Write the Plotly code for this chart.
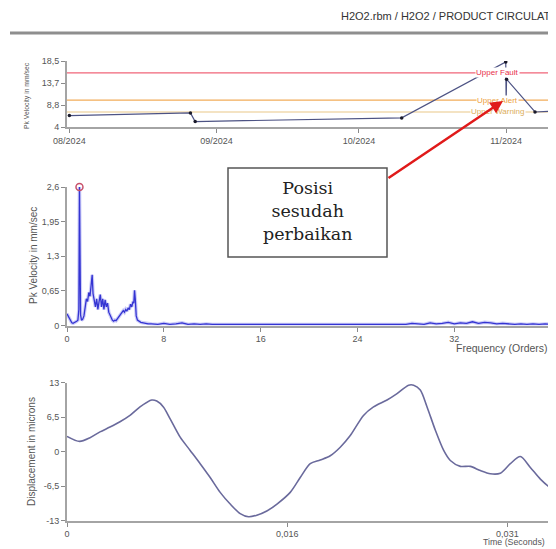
import numpy as np
import plotly.graph_objects as go

# The page body has an 8px margin, so the figure is drawn 8px smaller and
# every reference pixel position is shifted by -8px.
OFF = 8
W, H = 556 - OFF, 549 - OFF

title_text = "H2O2.rbm / H2O2 / PRODUCT CIRCULATION PUMP"

# ---- Trend data (Pk Velocity in mm/sec) ----
trend_dates = ["2024-08-01", "2024-08-26 12:00", "2024-08-27 12:00",
               "2024-10-10", "2024-10-31 22:00", "2024-11-01 00:00", "2024-11-01 02:00",
               "2024-11-07 02:00", "2024-11-11 12:00"]
trend_vals = [6.5, 7.1, 5.2, 6.0, 18.3, 9.9, 14.5, 7.3, 7.5]
alarm_names = ["Upper Fault", "Upper Alert", "Upper Warning"]
alarm_levels = [15.9, 9.9, 7.3]
alarm_colors = ["#f06478", "#f2ac5a", "#e9c887"]
alarm_text_colors = ["#e8304a", "#eda040", "#dcae5a"]
trend_yticks = [4, 8.833, 13.667, 18.5]
trend_yticktext = ["4", "8,8", "13,7", "18,5"]

# ---- Spectrum data (orders, mm/sec) ----
spec_freq_low = [0.00, 0.10, 0.20, 0.30, 0.40, 0.50, 0.60, 0.70, 0.80, 0.90, 0.98, 1.03, 1.07, 1.12,
                 1.20, 1.30, 1.40, 1.50, 1.60, 1.70, 1.80, 1.90, 2.00, 2.08, 2.15, 2.25, 2.35, 2.45,
                 2.55, 2.65, 2.75, 2.85, 2.95, 3.05, 3.15, 3.25, 3.35, 3.45, 3.55, 3.65, 3.75, 3.85,
                 3.95, 4.05, 4.15, 4.25, 4.35, 4.45, 4.55, 4.65, 4.75, 4.85, 4.95, 5.05, 5.15, 5.25,
                 5.35, 5.45, 5.52, 5.58, 5.64, 5.72, 5.82, 5.95, 6.10, 6.30, 6.50, 6.70]
spec_amp_low = [0.22, 0.18, 0.12, 0.08, 0.05, 0.04, 0.05, 0.06, 0.08, 0.10, 0.30, 2.60, 1.50, 0.20,
                0.10, 0.12, 0.18, 0.35, 0.50, 0.45, 0.62, 0.55, 0.80, 0.95, 0.60, 0.42, 0.35, 0.50,
                0.30, 0.45, 0.58, 0.35, 0.50, 0.30, 0.48, 0.35, 0.42, 0.25, 0.20, 0.12, 0.10, 0.08,
                0.10, 0.09, 0.12, 0.15, 0.18, 0.20, 0.24, 0.28, 0.25, 0.30, 0.27, 0.33, 0.30, 0.40,
                0.35, 0.45, 0.42, 0.66, 0.50, 0.18, 0.10, 0.08, 0.06, 0.05, 0.04, 0.03]
spec_freq_high = [round(v, 2) for v in np.arange(7.0, 40.6, 0.5)]
spec_amp_high = [0.03, 0.02, 0.04, 0.02, 0.03, 0.05, 0.02, 0.03, 0.02, 0.03, 0.02, 0.02,
                 0.03, 0.02, 0.02, 0.03, 0.02, 0.02, 0.02, 0.03, 0.02, 0.02, 0.03, 0.02,
                 0.02, 0.03, 0.02, 0.02, 0.03, 0.02, 0.02, 0.02, 0.03, 0.02, 0.03, 0.02,
                 0.02, 0.03, 0.02, 0.03, 0.02, 0.03, 0.02, 0.04, 0.03, 0.02, 0.05, 0.03,
                 0.04, 0.06, 0.03, 0.05, 0.04, 0.07, 0.04, 0.06, 0.05, 0.03, 0.04, 0.03,
                 0.02, 0.03, 0.02, 0.03, 0.02, 0.03, 0.02, 0.02]
n_high = min(len(spec_freq_high), len(spec_amp_high))
spec_freq = spec_freq_low + spec_freq_high[:n_high]
spec_amp = spec_amp_low + spec_amp_high[:n_high]
spec_peak_freq = [1.03]
spec_peak_amp = [2.6]
spec_xticks = [0, 8, 16, 24, 32, 40]
spec_yticks = [0, 0.65, 1.3, 1.95, 2.6]
spec_yticktext = ["0", "0,65", "1,3", "1,95", "2,6"]

# ---- Waveform data (seconds, microns) ----
wave_t = [0.0, 0.0009, 0.00163, 0.00234, 0.00305, 0.00376, 0.00447, 0.00518, 0.00601,
          0.00637, 0.00684, 0.00731, 0.00803, 0.00874, 0.00945, 0.01016, 0.01087, 0.01158,
          0.01229, 0.01288, 0.01347, 0.01418, 0.0149, 0.01584, 0.01655, 0.01726, 0.01797,
          0.01868, 0.01939, 0.0201, 0.02104, 0.02175, 0.02271, 0.02342, 0.02424, 0.0246,
          0.02507, 0.02555, 0.02614, 0.02673, 0.0272, 0.02791, 0.02862, 0.02933, 0.03004,
          0.03075, 0.03146, 0.03217, 0.03288, 0.03359, 0.0343, 0.0347]
wave_v = [2.85, 1.9, 2.6, 3.7, 4.6, 5.6, 6.8, 8.4, 9.7,
          9.5, 8.4, 6.2, 2.7, 0.2, -2.3, -4.9, -7.7, -9.9,
          -11.7, -12.3, -12.0, -11.2, -9.9, -7.7, -4.9, -2.3, -1.6,
          -0.8, 0.8, 3.0, 6.8, 8.4, 9.7, 10.9, 12.5, 12.5,
          11.6, 8.4, 4.0, 0.2, -1.7, -2.8, -2.8, -3.6, -4.2,
          -4.1, -2.3, -0.95, -3.0, -5.2, -6.8, -7.2]
wave_xticks = [0, 0.015625, 0.03125]
wave_xticktext = ["0", "0,016", "0,031"]
wave_yticks = [-13, -6.5, 0, 6.5, 13]
wave_yticktext = ["-13", "-6,5", "0", "6,5", "13"]

box_text = "Posisi<br>sesudah<br>perbaikan"


def px(x):
    return (x - OFF) / W


def py(y):
    return 1 - (y - OFF) / H


fig = go.Figure()

# Trend
fig.add_trace(go.Scatter(x=trend_dates, y=trend_vals, mode="lines+markers",
                         line=dict(color="#4d5384", width=1.2),
                         marker=dict(color="#1a1a2a", size=3.5),
                         xaxis="x", yaxis="y", showlegend=False))
# Spectrum (soft halo + main line)
fig.add_trace(go.Scatter(x=spec_freq, y=spec_amp, mode="lines",
                         line=dict(color="rgba(110,110,235,0.35)", width=3.5),
                         xaxis="x2", yaxis="y2", showlegend=False, hoverinfo="skip"))
fig.add_trace(go.Scatter(x=spec_freq, y=spec_amp, mode="lines",
                         line=dict(color="#3434d2", width=1.3),
                         xaxis="x2", yaxis="y2", showlegend=False))
fig.add_trace(go.Scatter(x=spec_peak_freq, y=spec_peak_amp, mode="markers",
                         marker=dict(symbol="circle-open", color="#c8506a", size=7,
                                     line=dict(width=1.5, color="#c8506a")),
                         cliponaxis=False,
                         xaxis="x2", yaxis="y2", showlegend=False))
# Waveform
fig.add_trace(go.Scatter(x=wave_t, y=wave_v, mode="lines",
                         line=dict(color="#6a6a9c", width=1.6, shape="spline", smoothing=0.8),
                         xaxis="x3", yaxis="y3", showlegend=False))

axis_common = dict(showline=True, linecolor="#a4a4a4", linewidth=2, ticks="outside",
                   ticklen=4, tickcolor="#8a8a8a", showgrid=False, zeroline=False,
                   automargin=False,
                   tickfont=dict(family="Liberation Sans, Arial, sans-serif", size=9, color="#555555"))

xdom = [px(67), 1]
fig.update_layout(
    width=W, height=H, autosize=False,
    margin=dict(l=0, r=0, t=0, b=0, pad=0, autoexpand=False),
    paper_bgcolor="white", plot_bgcolor="white",
    xaxis=dict(domain=xdom, anchor="y", type="date",
               range=["2024-07-31 12:00", "2024-11-11 12:00"],
               tick0="2024-08-01", dtick="M1", tickformat="%m/%Y", **axis_common),
    yaxis=dict(domain=[py(127), py(61)], anchor="x", range=[4, 18.5],
               tickvals=trend_yticks, ticktext=trend_yticktext, **axis_common),
    xaxis2=dict(domain=xdom, anchor="y2", range=[0, 40.4], tickvals=spec_xticks, **axis_common),
    yaxis2=dict(domain=[py(325.5), py(187)], anchor="x2", range=[0, 2.6],
                tickvals=spec_yticks, ticktext=spec_yticktext, **axis_common),
    xaxis3=dict(domain=xdom, anchor="y3", range=[0, 0.0347],
                tickvals=wave_xticks, ticktext=wave_xticktext, **axis_common),
    yaxis3=dict(domain=[py(520.5), py(382.5)], anchor="x3", range=[-13, 13],
                tickvals=wave_yticks, ticktext=wave_yticktext, **axis_common),
)

shapes = []
# header separator
shapes.append(dict(type="line", xref="paper", yref="paper", x0=px(10), x1=1,
                   y0=py(33), y1=py(33), line=dict(color="#8e8e8e", width=3)))
# alarm levels
for lvl, col in zip(alarm_levels, alarm_colors):
    shapes.append(dict(type="line", xref="x domain", yref="y", x0=0, x1=1, y0=lvl, y1=lvl,
                       line=dict(color=col, width=1.2), layer="below"))
# text box
shapes.append(dict(type="rect", xref="paper", yref="paper", x0=px(228), x1=px(387),
                   y0=py(257), y1=py(168), line=dict(color="#555555", width=1.5),
                   fillcolor="white", layer="above"))
fig.update_layout(shapes=shapes)

annotations = []
annotations.append(dict(text=title_text, xref="paper", yref="paper", x=px(339), y=py(16),
                        xanchor="left", yanchor="middle", showarrow=False,
                        font=dict(family="Liberation Sans, Arial, sans-serif", size=11, color="#333333")))
for name, lvl, col in zip(alarm_names, alarm_levels, alarm_text_colors):
    annotations.append(dict(text=name, xref="x", yref="y", x="2024-10-30 06:00", y=lvl,
                            xanchor="center", yanchor="middle", showarrow=False,
                            bgcolor="white", borderpad=0,
                            font=dict(family="Liberation Sans, Arial, sans-serif", size=8, color=col)))
# axis titles
title_font = dict(family="Liberation Sans, Arial, sans-serif", color="#555555")
annotations.append(dict(text="Pk Velocity in mm/sec", xref="paper", yref="paper", x=px(27), y=py(96),
                        textangle=-90, showarrow=False, xanchor="center", yanchor="middle",
                        font=dict(size=6.8, **title_font)))
annotations.append(dict(text="Pk Velocity in mm/sec", xref="paper", yref="paper", x=px(33), y=py(256),
                        textangle=-90, showarrow=False, xanchor="center", yanchor="middle",
                        font=dict(size=10, **title_font)))
annotations.append(dict(text="Displacement in microns", xref="paper", yref="paper", x=px(31), y=py(452),
                        textangle=-90, showarrow=False, xanchor="center", yanchor="middle",
                        font=dict(size=10, **title_font)))
annotations.append(dict(text="Frequency (Orders)", xref="paper", yref="paper", x=px(454), y=py(348),
                        showarrow=False, xanchor="left", yanchor="middle",
                        font=dict(size=10.5, **title_font)))
annotations.append(dict(text="Time (Seconds)", xref="paper", yref="paper", x=px(514), y=py(549),
                        showarrow=False, xanchor="center", yanchor="bottom",
                        font=dict(size=8.8, **title_font)))
# box text
annotations.append(dict(text=box_text, xref="paper", yref="paper", x=px(307), y=py(211),
                        showarrow=False, xanchor="center", yanchor="middle", align="center",
                        font=dict(family="DejaVu Serif, Liberation Serif, serif", size=17.5,
                                  color="#222222")))
# red arrow (tail offset in pixels from the head)
annotations.append(dict(text="", xref="paper", yref="paper", x=px(503), y=py(101),
                        axref="pixel", ayref="pixel", ax=387 - 503, ay=179 - 101,
                        showarrow=True, arrowhead=2, arrowsize=1, arrowwidth=2.5,
                        arrowcolor="#e01a1a"))
fig.update_layout(annotations=annotations)

fig.write_html("out.html")
